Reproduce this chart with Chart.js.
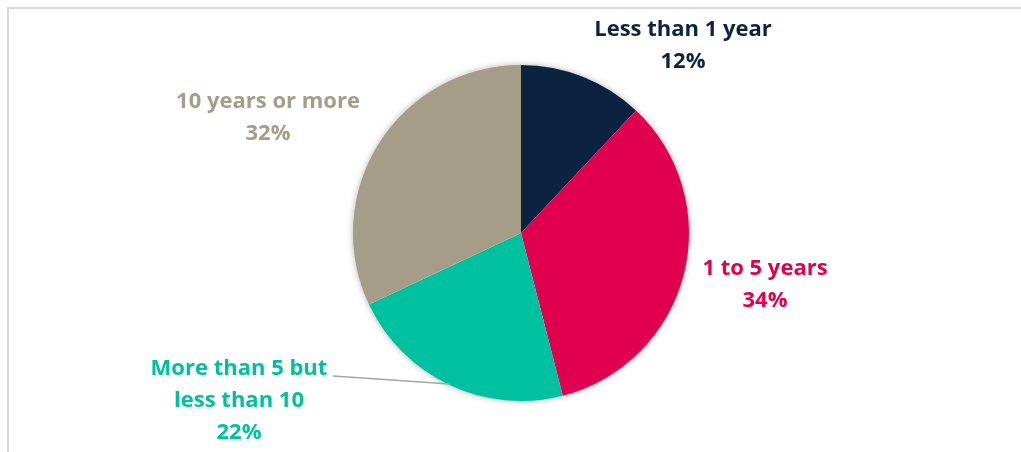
<!DOCTYPE html>
<html>
<head>
<meta charset="utf-8">
<script src="https://cdn.jsdelivr.net/npm/chart.js@4/dist/chart.umd.min.js"></script>
<style>
  html, body { margin: 0; padding: 0; background: #fff; }
  #wrap { width: 1021px; height: 452px; }
</style>
</head>
<body>
<div id="wrap"><canvas id="tenureChart" width="1021" height="452"></canvas></div>
<script>
// tenure split, clockwise from 12 o'clock
var categories = ['Less than 1 year', '1 to 5 years', 'More than 5 but less than 10', '10 years or more']
var shares = [12, 34, 22, 32]
var sliceColors = ['#0b2341', '#e0004d', '#00c19f', '#a59d87']

// label text lines and where they sit
var labelLines = [
  ['Less than 1 year'],
  ['1 to 5 years'],
  ['More than 5 but', 'less than 10'],
  ['10 years or more']
]
var labelPos = [
  { x: 683, y: 30 },
  { x: 765, y: 269 },
  { x: 239, y: 369 },
  { x: 268, y: 102 }
]
var LABEL_FONT = 'bold 22px "Open Sans"'
var LINE_GAP = 32

var framePlugin = {
  id: 'frame',
  beforeDraw: function (chart) {
    var ctx = chart.ctx
    ctx.save()
    ctx.strokeStyle = '#d9d9d9'
    ctx.lineWidth = 2
    ctx.beginPath()
    ctx.moveTo(8, chart.height)
    ctx.lineTo(8, 8)
    ctx.lineTo(chart.width, 8)
    ctx.stroke()
    ctx.restore()
  },
  beforeDatasetsDraw: function (chart) {
    // soft shadow under the whole pie
    var arc = chart.getDatasetMeta(0).data[0]
    var ctx = chart.ctx
    ctx.save()
    ctx.shadowColor = 'rgba(0,0,0,0.35)'
    ctx.shadowBlur = 7
    ctx.fillStyle = '#ffffff'
    ctx.beginPath()
    ctx.arc(arc.x, arc.y, arc.outerRadius - 0.5, 0, Math.PI * 2)
    ctx.fill()
    ctx.restore()
  }
}

var labelPlugin = {
  id: 'sliceLabels',
  afterDatasetsDraw: function (chart) {
    var ctx = chart.ctx
    var meta = chart.getDatasetMeta(0)
    ctx.save()

    // leader line for the teal slice, ending at its mid-angle on the rim
    var tealArc = meta.data[2]
    var mid = (tealArc.startAngle + tealArc.endAngle) / 2
    ctx.strokeStyle = '#a6a6a6'
    ctx.lineWidth = 1.5
    ctx.beginPath()
    ctx.moveTo(333, 376)
    ctx.lineTo(tealArc.x + Math.cos(mid) * (tealArc.outerRadius - 1), tealArc.y + Math.sin(mid) * (tealArc.outerRadius - 1))
    ctx.stroke()

    ctx.font = LABEL_FONT
    ctx.textAlign = 'center'
    ctx.textBaseline = 'middle'
    for (var i = 0; i < shares.length; i++) {
      ctx.fillStyle = sliceColors[i]
      var lines = labelLines[i].concat([shares[i] + '%'])
      for (var j = 0; j < lines.length; j++) {
        ctx.fillText(lines[j], labelPos[i].x, labelPos[i].y + j * LINE_GAP)
      }
    }
    ctx.restore()
  }
}

new Chart(document.getElementById('tenureChart').getContext('2d'), {
  type: 'pie',
  data: {
    labels: categories,
    datasets: [{
      data: shares,
      backgroundColor: sliceColors,
      borderWidth: 0
    }]
  },
  options: {
    responsive: false,
    animation: false,
    layout: {
      padding: { left: 353, right: 332, top: 65, bottom: 51 }
    },
    plugins: {
      legend: { display: false },
      tooltip: { enabled: false }
    }
  },
  plugins: [framePlugin, labelPlugin]
})
</script>
</body>
</html>
